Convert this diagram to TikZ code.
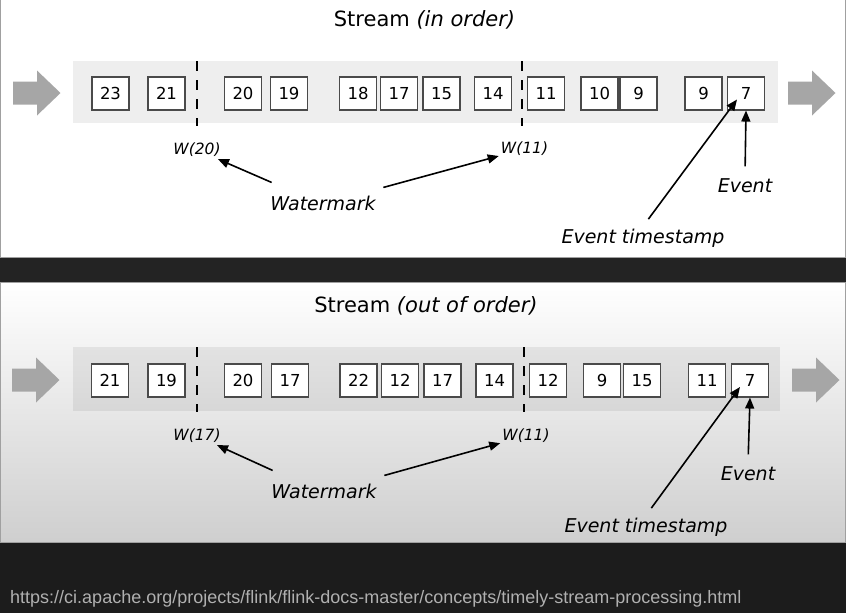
\documentclass[tikz,border=0pt]{standalone}
\usepackage{fontspec}
\setmainfont{DejaVu Sans}
\newfontfamily\urlfont{Liberation Sans}
\usetikzlibrary{arrows.meta}
\definecolor{boxline}{HTML}{4A4A4A}
\definecolor{arrowgray}{HTML}{A6A6A6}
\definecolor{darkband}{HTML}{232323}
\definecolor{darkfoot}{HTML}{1C1C1C}
\definecolor{urlgray}{HTML}{B0B0B0}
\definecolor{panelline}{HTML}{A0A0A0}
\newcommand\bigarrowshape[2]{%
  \fill[arrowgray] (#1,#2-11.5) -- ++(24,0) -- ++(0,-11) -- ++(23.5,22.5)
    -- ++(-23.5,22.5) -- ++(0,-11) -- ++(-24,0) -- cycle;}
\begin{document}
\begin{tikzpicture}[x=1pt,y=-1pt,
  evbox/.style={draw=boxline, fill=white, line width=1.1pt, minimum width=37pt,
    minimum height=33pt, inner sep=0pt, font=\fontsize{16.5}{16.5}\selectfont},
  wmlabel/.style={font=\fontsize{15.5}{15.5}\selectfont\itshape, inner sep=2pt},
  labeltext/.style={font=\fontsize{19}{19}\selectfont\itshape, inner sep=2pt},
  ttl/.style={font=\fontsize{21}{21}\selectfont, anchor=base},
  ptr/.style={-{Triangle[length=11pt,width=9pt]}, line width=1.6pt},
  wline/.style={line width=2.8pt, dash pattern=on 10pt off 9pt},
  band/.style={fill=black, fill opacity=0.065}]
\useasboundingbox (0,0) rectangle (846,613);
% backgrounds
\fill[white] (0,0) rectangle (846,258);
\draw[panelline, line width=0.8pt] (0.4,0) -- (0.4,257.6) -- (845.6,257.6) -- (845.6,0);
\fill[darkband] (0,258) rectangle (846,282);
\shade[top color=white, bottom color=black!19] (0,282) rectangle (846,543);
\draw[panelline, line width=0.8pt] (0.4,282.4) rectangle (845.6,542.6);
\fill[darkfoot] (0,543) rectangle (846,613);

% ================= top panel =================
\node[ttl] (title1) at (424.5,27) {Stream \textit{(in order)}};
\fill[band] (73,61) rectangle (778,123);
\bigarrowshape{13}{93}
\bigarrowshape{788}{93}
\foreach \nm/\x/\t in {a/110.5/23, b/166.5/21, c/243/20, d/289/19, e/358/18,
  f/399/17, g/441.5/15, h/493/14, i/546/11, j/599.5/10, k/638.5/9, l/703.5/9}
  \node[evbox] (t\nm) at (\x,93.5) {\t};
\node[evbox] (tseven) at (746,93.5) {7};
\draw[wline] (197,61) -- (197,126);
\draw[wline] (522,61) -- (522,126);
\node[wmlabel] (wA) at (197,150) {W(20)};
\node[wmlabel] (wB) at (524.5,149) {W(11)};
\node[labeltext] (wmA) at (323,203) {Watermark};
\node[labeltext, anchor=base] (evA) at (745,192) {Event};
\node[labeltext, anchor=base] (tsA) at (643,243) {Event timestamp};
\draw[ptr] ([shift={(3.5,-11)}]wmA.north west) -- (wA);
\draw[ptr] ([shift={(5.5,-6)}]wmA.north east) -- (wB);
\draw[ptr, shorten <=9.5pt] (evA.north) -- (tseven.south);
\draw[ptr, shorten <=9pt] (tsA.north) -- ([shift={(-9,6)}]tseven.center);

% ================= bottom panel =================
\node[ttl] (title2) at (426,312) {Stream \textit{(out of order)}};
\fill[band] (73,347) rectangle (780,411);
\bigarrowshape{12}{380}
\bigarrowshape{792}{380}
\foreach \nm/\x/\t in {a/110/21, b/166.5/19, c/243/20, d/290/17, e/358.5/22,
  f/400/12, g/442.5/17, h/494.5/14, i/548/12, j/602/9, k/642/15, l/707/11}
  \node[evbox] (b\nm) at (\x,380.5) {\t};
\node[evbox] (bseven) at (750,380.5) {7};
\draw[wline] (197,347) -- (197,412);
\draw[wline] (524,347) -- (524,412);
\node[wmlabel] (wC) at (197,436) {W(17)};
\node[wmlabel] (wD) at (526,436) {W(11)};
\node[labeltext] (wmB) at (324,491) {Watermark};
\node[labeltext, anchor=base] (evB) at (748,480) {Event};
\node[labeltext, anchor=base] (tsB) at (646,532) {Event timestamp};
\draw[ptr] ([shift={(3.5,-11)}]wmB.north west) -- (wC);
\draw[ptr] ([shift={(5.5,-6)}]wmB.north east) -- (wD);
\draw[ptr, shorten <=9.5pt] (evB.north) -- (bseven.south);
\draw[ptr, shorten <=9pt] (tsB.north) -- ([shift={(-10,6.5)}]bseven.center);

% footer url
\node[anchor=base west, inner sep=0pt, text=urlgray, font=\urlfont\fontsize{18}{18}\selectfont]
  (url) at (10,603) {https://ci.apache.org/projects/flink/flink-docs-master/concepts/timely-stream-processing.html};
\end{tikzpicture}
\end{document}
